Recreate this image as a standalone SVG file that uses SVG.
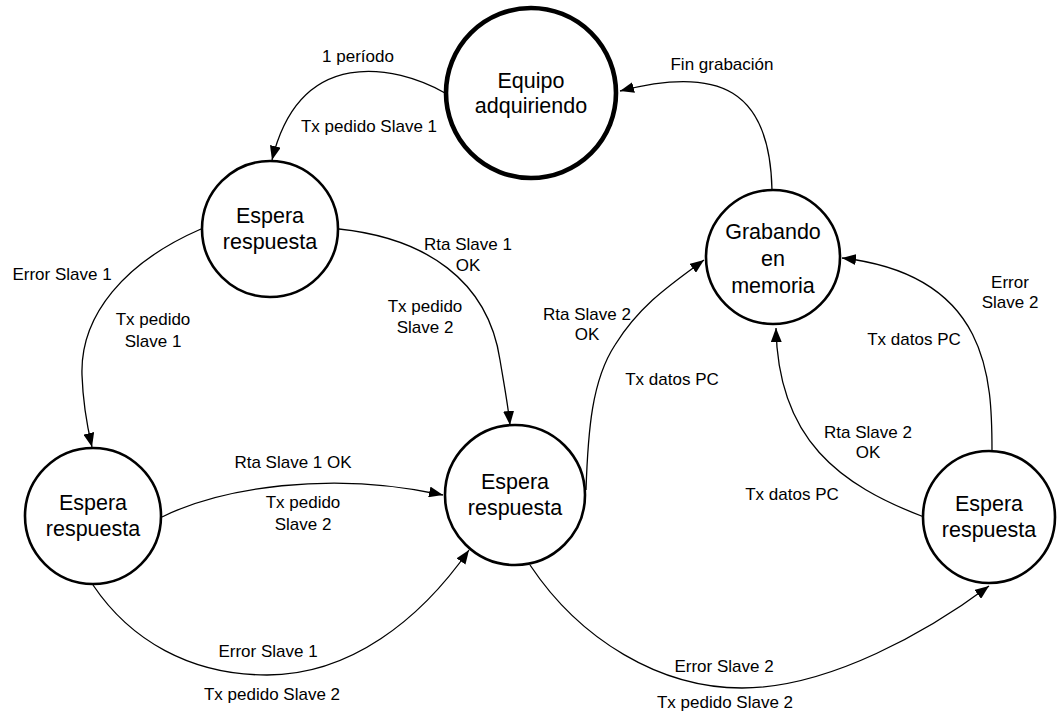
<svg xmlns="http://www.w3.org/2000/svg" width="1059" height="715" viewBox="0 0 1059 715">
  <style>
    .state { fill: #ffffff; stroke: #000000; stroke-width: 2.6; }
    .state.initial { stroke-width: 4.6; }
    .state-label { font-family: "Liberation Sans", Arial, sans-serif; font-size: 21.5px; fill: #000000; text-anchor: middle; }
    .edge { fill: none; stroke: #000000; stroke-width: 1.3; marker-end: url(#arrow); }
    .edge-label { font-family: "Liberation Sans", Arial, sans-serif; font-size: 17px; fill: #000000; text-anchor: middle; }
  </style>
  <defs>
    <marker id="arrow" markerUnits="userSpaceOnUse" markerWidth="14" markerHeight="11" refX="14" refY="5.5" orient="auto">
      <path d="M0,0 L14,5.5 L0,11 z" fill="#000000"/>
    </marker>
  </defs>

  <rect x="0" y="0" width="1059" height="715" fill="#ffffff"/>

  <!-- transitions -->
  <g id="connectors">
    <path class="edge" d="M445,93 C395,65 300,45 272,160"/>
    <path class="edge" d="M201,229 C125,262 80,315 82,375 C83,405 88,430 92,447"/>
    <path class="edge" d="M339,229 C425,238 488,280 500,360 C505,390 508,405 510,425"/>
    <path class="edge" d="M162,517 C220,488 330,470 443,495"/>
    <path class="edge" d="M93,585 C130,640 190,675 267,675 C350,675 420,620 469,550"/>
    <path class="edge" d="M586,490 C588,430 592,380 615,345 C640,305 670,285 704,260"/>
    <path class="edge" d="M924,517 C840,485 778,440 776,328"/>
    <path class="edge" d="M992,451 C992,380 990,275 842,258"/>
    <path class="edge" d="M772,190 C770,90 720,65 620,91"/>
    <path class="edge" d="M530,565 C580,640 660,688 742,688 C830,688 930,630 989,586"/>
  </g>

  <!-- transition labels -->
  <g id="edge-labels">
    <text class="edge-label" x="358" y="62">1 período</text>
    <text class="edge-label" x="369" y="132">Tx pedido Slave 1</text>
    <text class="edge-label" x="62" y="280">Error Slave 1</text>
    <text class="edge-label" x="153" y="325">Tx pedido</text>
    <text class="edge-label" x="153" y="347">Slave 1</text>
    <text class="edge-label" x="468" y="250">Rta Slave 1</text>
    <text class="edge-label" x="468" y="271">OK</text>
    <text class="edge-label" x="425" y="312">Tx pedido</text>
    <text class="edge-label" x="425" y="333">Slave 2</text>
    <text class="edge-label" x="722" y="70">Fin grabación</text>
    <text class="edge-label" x="587" y="320">Rta Slave 2</text>
    <text class="edge-label" x="587" y="340">OK</text>
    <text class="edge-label" x="1010" y="288">Error</text>
    <text class="edge-label" x="1010" y="308">Slave 2</text>
    <text class="edge-label" x="914" y="345">Tx datos PC</text>
    <text class="edge-label" x="672" y="385">Tx datos PC</text>
    <text class="edge-label" x="868" y="438">Rta Slave 2</text>
    <text class="edge-label" x="868" y="458">OK</text>
    <text class="edge-label" x="792" y="500">Tx datos PC</text>
    <text class="edge-label" x="293" y="468">Rta Slave 1 OK</text>
    <text class="edge-label" x="303" y="508">Tx pedido</text>
    <text class="edge-label" x="303" y="530">Slave 2</text>
    <text class="edge-label" x="268" y="657">Error Slave 1</text>
    <text class="edge-label" x="272" y="700">Tx pedido Slave 2</text>
    <text class="edge-label" x="724" y="672">Error Slave 2</text>
    <text class="edge-label" x="725" y="708">Tx pedido Slave 2</text>
  </g>

  <!-- states -->
  <g id="equipo-adquiriendo">
    <circle class="state initial" cx="531" cy="93" r="85"/>
    <text class="state-label" x="531" y="88">Equipo</text>
    <text class="state-label" x="531" y="113">adquiriendo</text>
  </g>
  <g id="espera-slave1">
    <circle class="state" cx="270" cy="229" r="68"/>
    <text class="state-label" x="270" y="223">Espera</text>
    <text class="state-label" x="270" y="249">respuesta</text>
  </g>
  <g id="grabando-en-memoria">
    <circle class="state" cx="773" cy="257" r="67"/>
    <text class="state-label" x="773" y="239">Grabando</text>
    <text class="state-label" x="773" y="266">en</text>
    <text class="state-label" x="773" y="293">memoria</text>
  </g>
  <g id="espera-reintento-slave1">
    <circle class="state" cx="93" cy="516" r="68"/>
    <text class="state-label" x="93" y="510">Espera</text>
    <text class="state-label" x="93" y="536">respuesta</text>
  </g>
  <g id="espera-slave2">
    <circle class="state" cx="515" cy="495" r="70"/>
    <text class="state-label" x="515" y="489">Espera</text>
    <text class="state-label" x="515" y="515">respuesta</text>
  </g>
  <g id="espera-reintento-slave2">
    <circle class="state" cx="989" cy="517" r="66"/>
    <text class="state-label" x="989" y="511">Espera</text>
    <text class="state-label" x="989" y="537">respuesta</text>
  </g>
</svg>
